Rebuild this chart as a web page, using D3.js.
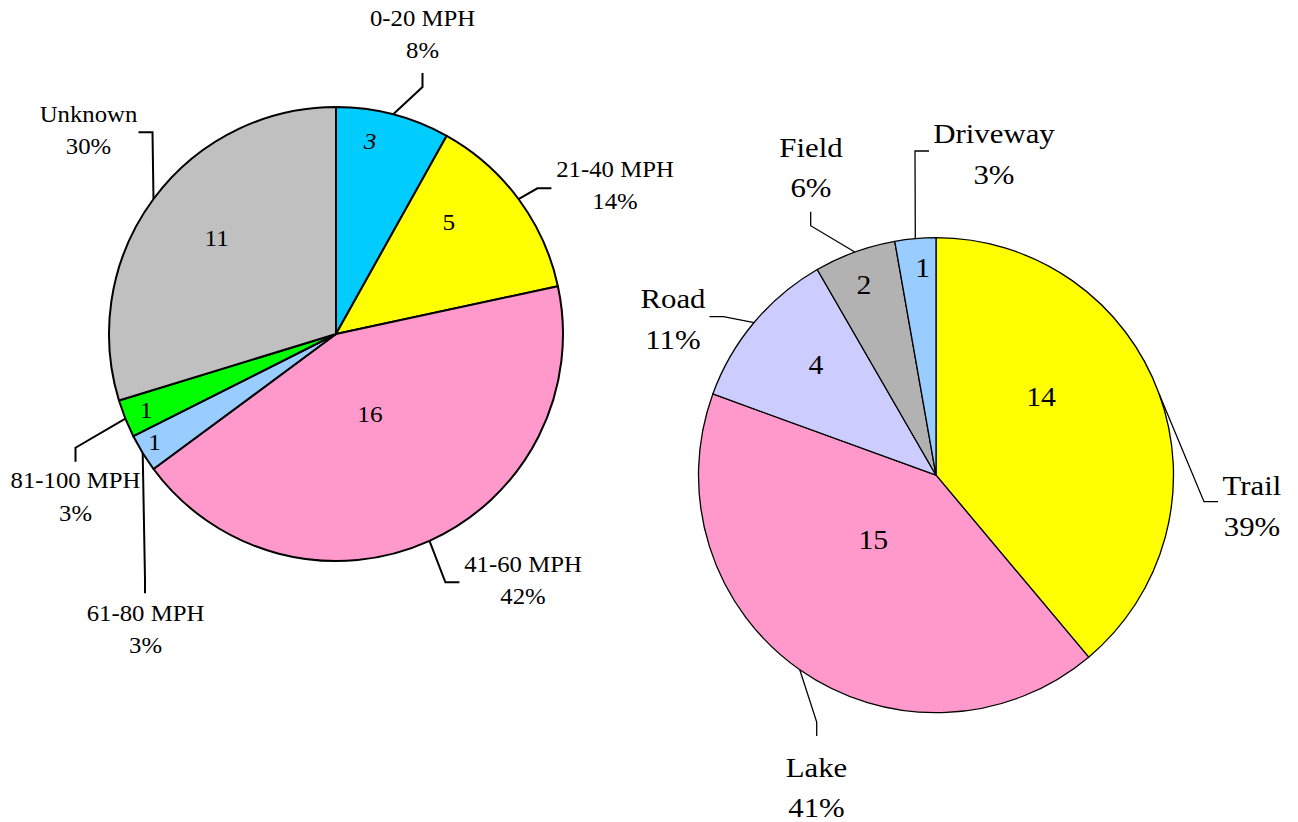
<!DOCTYPE html>
<html>
<head>
<meta charset="utf-8">
<script src="https://cdn.jsdelivr.net/npm/d3@7/dist/d3.min.js"></script>
<style>
  html, body { margin: 0; padding: 0; background: #ffffff; }
  svg { display: block; }
  text { font-family: "Liberation Serif", "Times New Roman", serif; fill: #000; }
</style>
</head>
<body>
<svg id="chart" width="1298" height="822"></svg>
<script>
// ---- Data: left pie (speed) ----
const speedCategories = ["0-20 MPH", "21-40 MPH", "41-60 MPH", "61-80 MPH", "81-100 MPH", "Unknown"];
const speedValues = [3, 5, 16, 1, 1, 11];
const speedPercents = ["8%", "14%", "42%", "3%", "3%", "30%"];
const speedColors = ["#00CCFF", "#FFFF00", "#FF99CC", "#99CCFF", "#00FF00", "#C0C0C0"];

// ---- Data: right pie (location) ----
const placeCategories = ["Trail", "Lake", "Road", "Field", "Driveway"];
const placeValues = [14, 15, 4, 2, 1];
const placePercents = ["39%", "41%", "11%", "6%", "3%"];
const placeColors = ["#FFFF00", "#FF99CC", "#CCCCFF", "#B2B2B2", "#99CCFF"];

// ---- Layout (label placement, not data) ----
const leftLayout = {
  cx: 336, cy: 334, r: 227, stroke: 2, font: 22.5, innerFont: 23, lineGap: 32.3,
  // value label offsets from pie centre
  inner: [[34, -184.7, true], [112.8, -104], [34, 87.7], [-181.5, 116], [-190, 84.3], [-119.4, -88]],
  // outer label: centre x, first baseline y
  outer: [[422.5, 26], [615, 176.7], [523, 571.7], [145.5, 621], [75.5, 488.3], [88.5, 121.7]],
  // leader end point and stub direction (towards elbow)
  leader: [[422.5, 73, 0, 1], [551.4, 188.3, -1, 0], [459.4, 582.3, -1, 0], [145, 593.3, 0, -1], [75.5, 461.7, 0, -1], [138.5, 132.3, 1, 0]]
};
const rightLayout = {
  cx: 936, cy: 475.2, r: 237.5, stroke: 1.3, font: 28, innerFont: 27, lineGap: 40.8,
  inner: [[105, -69.5], [-62.7, 74.1], [-120, -101.2], [-72, -181.2], [-13.4, -197.9]],
  outer: [[1252, 495], [816.5, 776.7], [673, 308.3], [811, 156.7], [994, 143.3]],
  leader: [[1218, 501.7, -1, 0], [816.7, 736, 0, -1], [709.5, 316.7, 1, 0], [810.7, 211.7, 0, 1], [929, 151, -1, 0]]
};

const TEXT_STRETCH = 1.1;
const svg = d3.select("#chart");

function drawPie(cats, values, pcts, colors, L) {
  const pie = d3.pie().sort(null).value(d => d);
  const arcs = pie(values);
  const arc = d3.arc().innerRadius(0).outerRadius(L.r);
  const g = svg.append("g");
  const pg = g.append("g").attr("transform", `translate(${L.cx},${L.cy})`);

  pg.selectAll("path.slice")
    .data(arcs)
    .join("path")
    .attr("class", "slice")
    .attr("d", arc)
    .attr("fill", (d, i) => colors[i])
    .attr("stroke", "#000")
    .attr("stroke-width", L.stroke)
    .attr("stroke-linejoin", "round");

  // value labels
  pg.selectAll("text.val")
    .data(arcs)
    .join("text")
    .attr("class", "val")
    .attr("transform", (d, i) => `translate(${L.inner[i][0]},${L.inner[i][1]}) scale(${TEXT_STRETCH},1)`)
    .attr("text-anchor", "middle")
    .attr("font-size", L.innerFont)
    .attr("font-style", (d, i) => L.inner[i][2] ? "italic" : "normal")
    .text(d => d.data);

  // leader lines
  g.selectAll("path.leader")
    .data(arcs)
    .join("path")
    .attr("class", "leader")
    .attr("fill", "none")
    .attr("stroke", "#000")
    .attr("stroke-width", L.stroke)
    .attr("d", (d, i) => {
      const a = (d.startAngle + d.endAngle) / 2;
      const sx = L.cx + L.r * Math.sin(a), sy = L.cy - L.r * Math.cos(a);
      const [ex, ey, dx, dy] = L.leader[i];
      const kx = ex + dx * 14, ky = ey + dy * 14;
      return d3.line()([[sx, sy], [kx, ky], [ex, ey]]);
    });

  // category / percent labels
  const lab = g.selectAll("g.lab")
    .data(arcs)
    .join("g")
    .attr("class", "lab")
    .attr("transform", (d, i) => `translate(${L.outer[i][0]},${L.outer[i][1]}) scale(${TEXT_STRETCH},1)`);
  lab.append("text")
    .attr("text-anchor", "middle")
    .attr("font-size", L.font)
    .text((d, i) => cats[i]);
  lab.append("text")
    .attr("text-anchor", "middle")
    .attr("font-size", L.font)
    .attr("y", L.lineGap)
    .text((d, i) => pcts[i]);
}

drawPie(speedCategories, speedValues, speedPercents, speedColors, leftLayout);
drawPie(placeCategories, placeValues, placePercents, placeColors, rightLayout);
</script>
</body>
</html>
